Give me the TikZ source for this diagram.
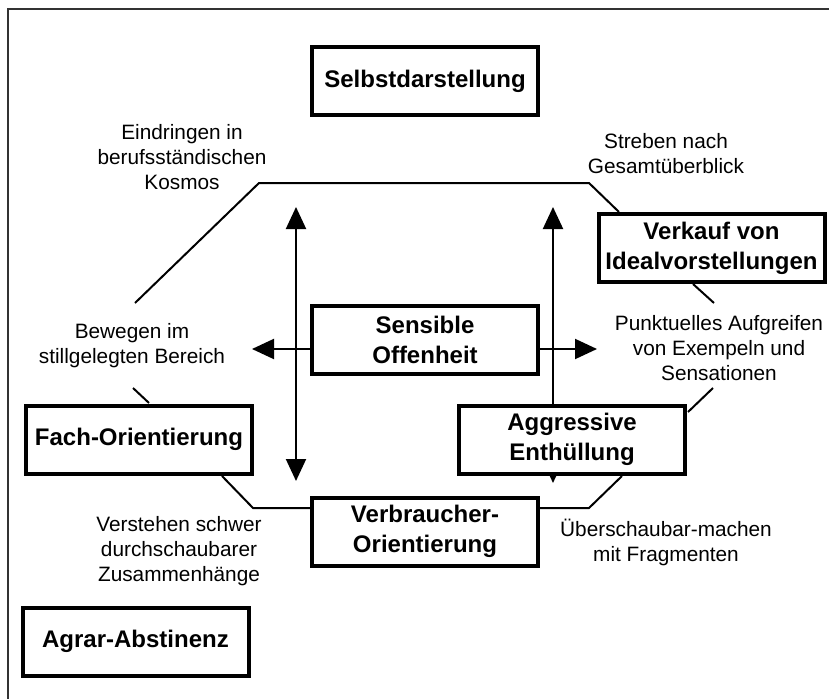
\documentclass[tikz,border=0pt]{standalone}
\usepackage{fontspec}
\setmainfont{Liberation Sans}
\usepackage{tikz}
\usetikzlibrary{backgrounds,arrows.meta}

\begin{document}
\begin{tikzpicture}[x=0.75pt,y=-0.75pt,
    box/.style={draw, line width=3pt, fill=white, align=center,
      minimum width=169.5pt, minimum height=51pt, inner sep=0pt,
      font=\bfseries\fontsize{18}{22.5}\selectfont},
    lbl/.style={align=center, inner sep=0pt,
      font=\fontsize{15.6}{18.75}\selectfont},
    edge/.style={line width=1.5pt},
    arr/.style={line width=1.5pt, -{Triangle[length=16.5pt,width=15pt]}},
    darr/.style={arr, {Triangle[length=16.5pt,width=15pt]}-{Triangle[length=16.5pt,width=15pt]}}]
  \useasboundingbox (0,0) rectangle (829,699);
  \draw [line width=1.5pt, black!80] (8,699) -- (8,9) -- (829,9);

  % boxes
  \node [box] (selbst) at (425,81.5) {Selbstdarstellung};
  \node [box] (sensibel) at (425,339.5) {Sensible\\Offenheit};
  \node [box] (verkauf) at (711.5,248) {Verkauf von\\Idealvorstellungen};
  \node [box] (fach) at (139,439.5) {Fach-Orientierung};
  \node [box] (verbraucher) at (425,531.5) {Verbraucher-\\Orientierung};
  \node [box] (aggressiv) at (572,439.5) {Aggressive\\Enthüllung};
  \node [box] (agrar) at (135.5,641.5) {Agrar-Abstinenz};

  % labels
  \node [lbl] (eindringen) at (182,157) {Eindringen in\\berufsständischen\\Kosmos};
  \node [lbl] (streben) at (666,154) {Streben nach\\Gesamtüberblick};
  \node [lbl] (bewegen) at (132,345.5) {Bewegen im\\stillgelegten Bereich};
  \node [lbl] (punktuell) at (719,348) {Punktuelles Aufgreifen\\von Exempeln und\\Sensationen};
  \node [lbl] (verstehen) at (179,551) {Verstehen schwer\\durchschaubarer\\Zusammenhänge};
  \node [lbl] (ueberschau) at (666,542.5) {Überschaubar-machen\\mit Fragmenten};

  % corners of the octagon
  \coordinate (k1) at (135,303);
  \coordinate (k2) at (259,183);
  \coordinate (k3) at (589,183);
  \coordinate (k4) at (619,212);
  \coordinate (k5) at (693,284);
  \coordinate (k6) at (714,303);
  \coordinate (k7) at (713,388);
  \coordinate (k8) at (688,412);
  \coordinate (k9) at (622,476);
  \coordinate (k10) at (589,508);
  \coordinate (k11) at (540,508);
  \coordinate (k12) at (310,508);
  \coordinate (k13) at (253,508);
  \coordinate (k14) at (222,476);
  \coordinate (k15) at (149,403);
  \coordinate (k16) at (133,388);

  % arrow ends
  \coordinate (oben1) at (296,207);
  \coordinate (unten1) at (296,481);
  \coordinate (links) at (252,349);
  \coordinate (rechts) at (597,349);
  \coordinate (oben2) at (553,207);
  \coordinate (unten2) at (553,483);

  \begin{scope}[on background layer]
    \draw [edge] (k1) -- (k2) -- (k3) -- (k4);
    \draw [edge] (k5) -- (k6);
    \draw [edge] (k7) -- (k8);
    \draw [edge] (k9) -- (k10) -- (k11);
    \draw [edge] (k12) -- (k13) -- (k14);
    \draw [edge] (k15) -- (k16);

    \draw [darr] (oben1) -- (unten1);
    \draw [darr] (links) -- (rechts);
    \draw [darr] (unten2) -- (oben2);
  \end{scope}
\end{tikzpicture}
\end{document}
